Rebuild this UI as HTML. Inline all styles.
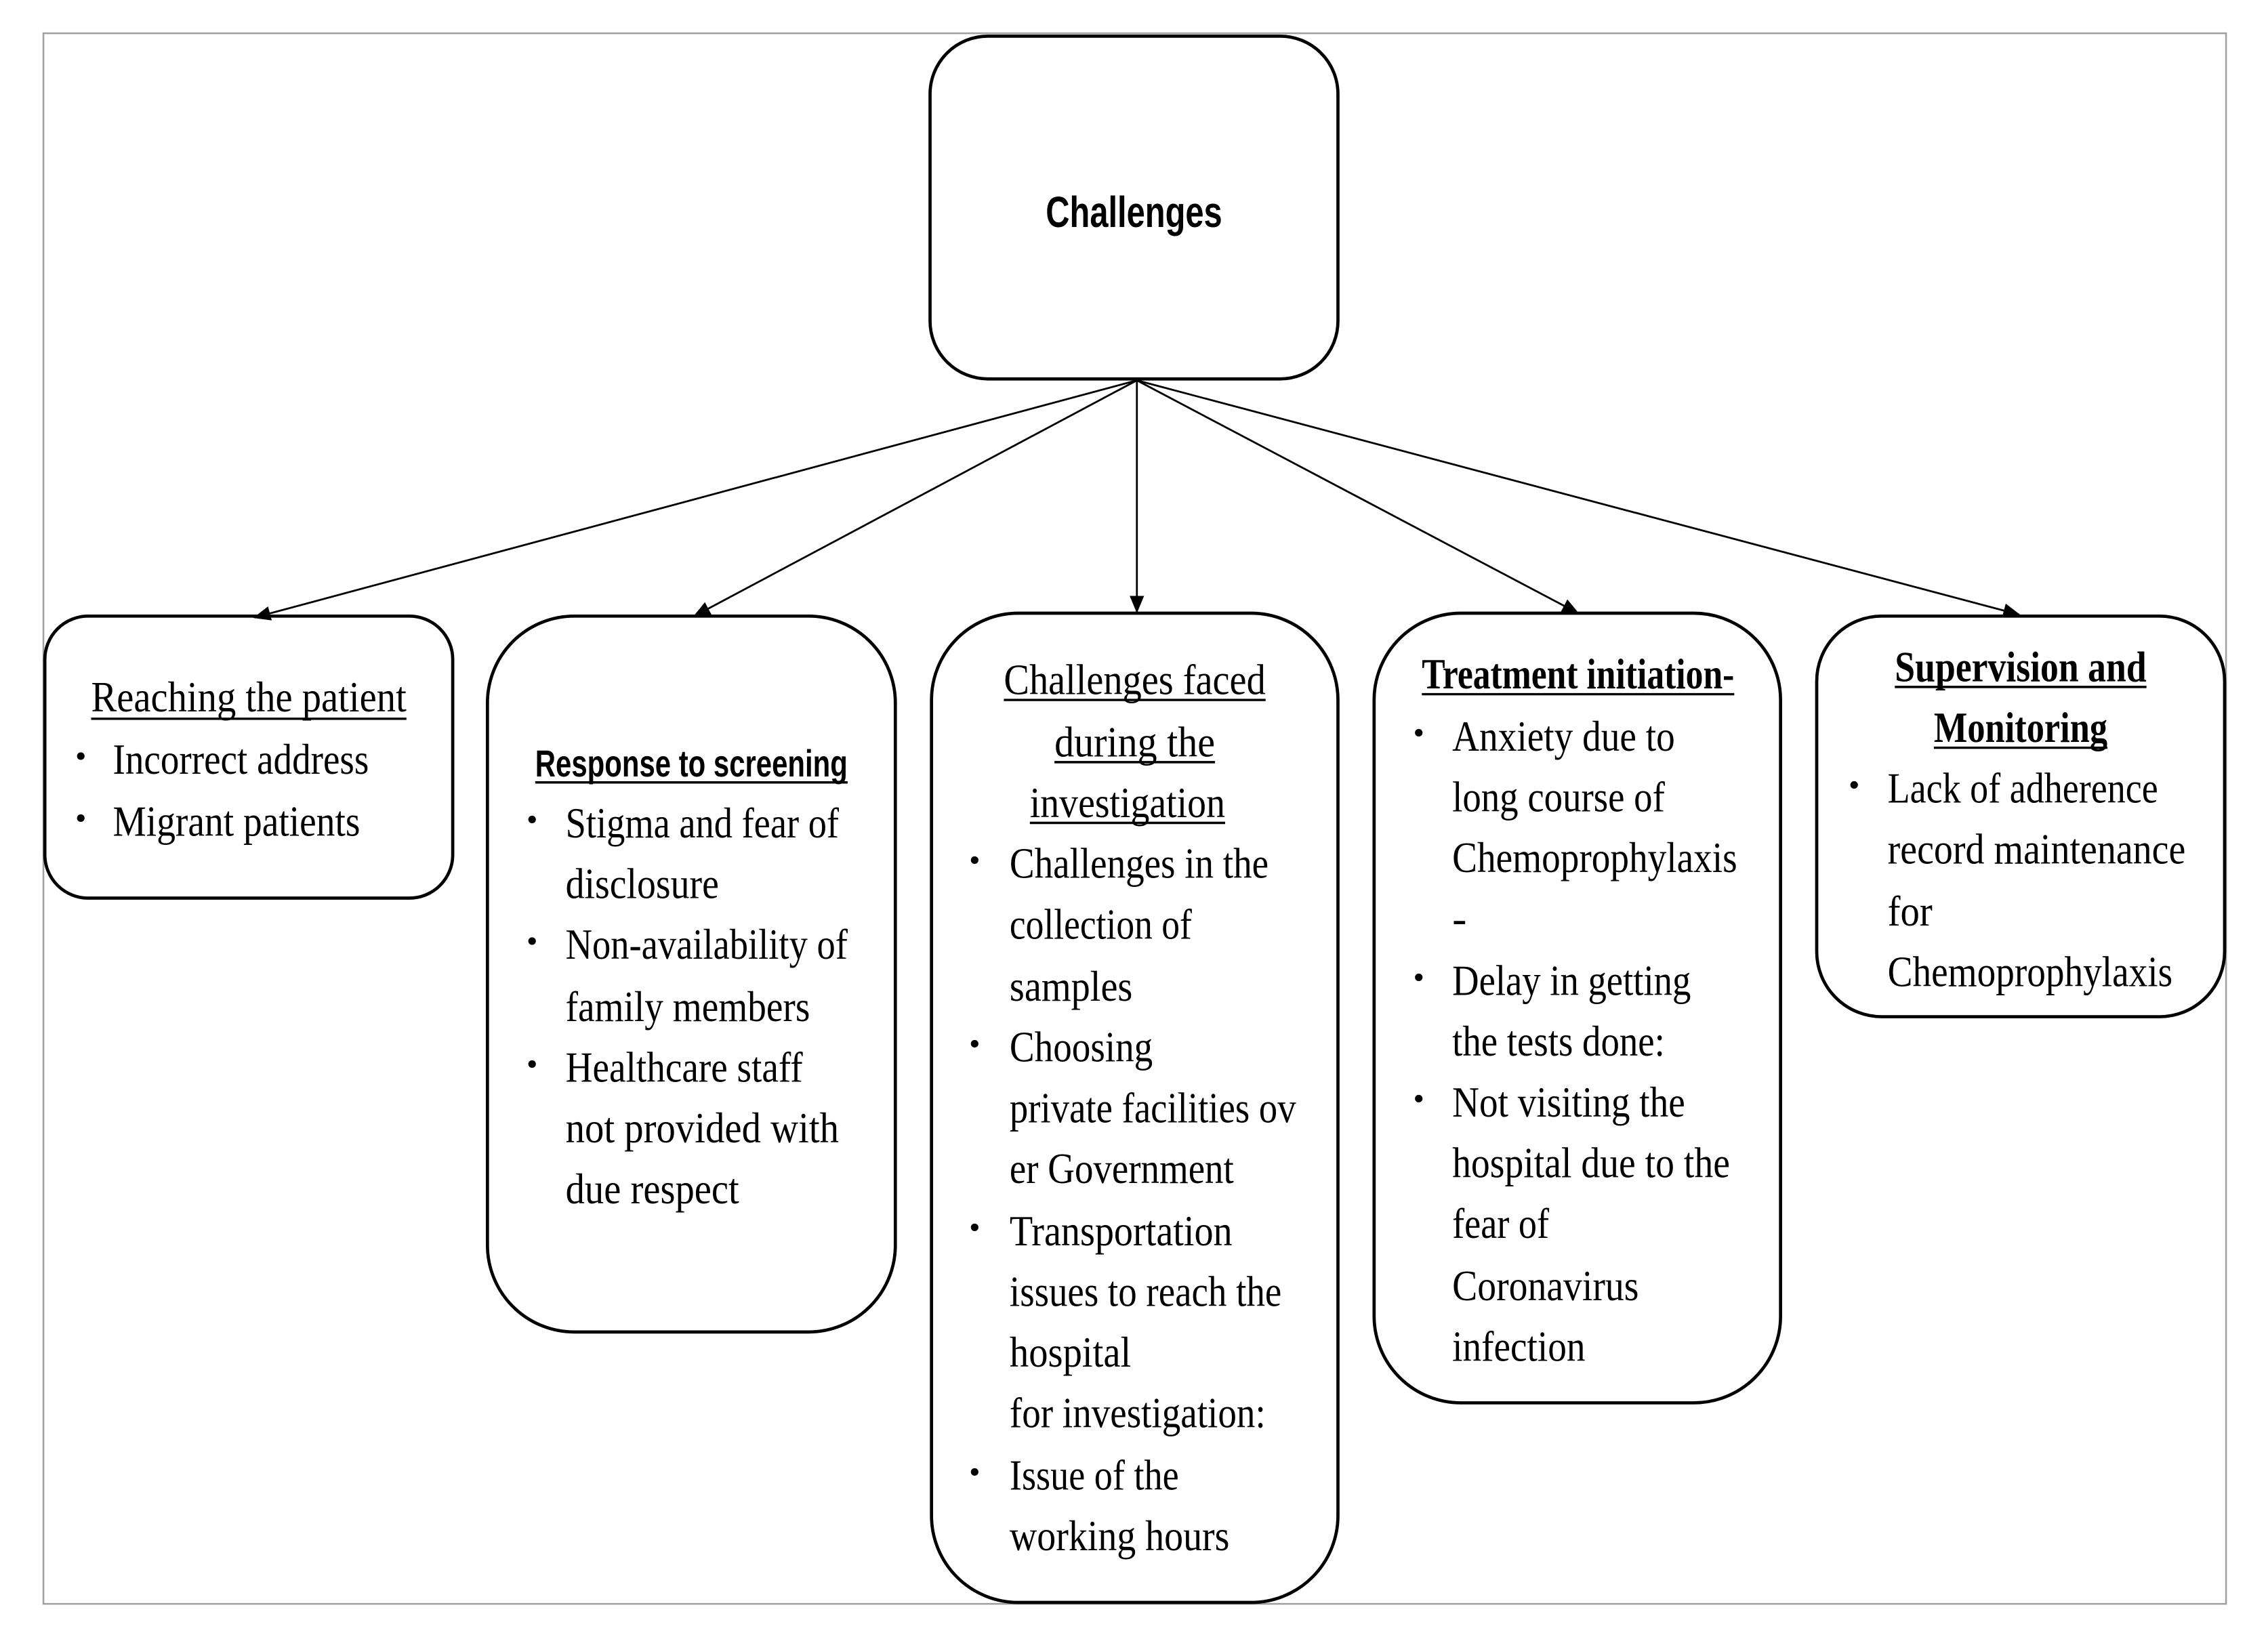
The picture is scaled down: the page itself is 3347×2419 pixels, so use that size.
<!DOCTYPE html>
<html><head><meta charset="utf-8"><style>html,body{margin:0;padding:0;background:#fff}svg{display:block}</style></head>
<body>
<svg width="3347" height="2419" viewBox="0 0 1568 1133.3" preserveAspectRatio="none" xmlns="http://www.w3.org/2000/svg">
<defs><marker id="ah" markerWidth="12" markerHeight="10" refX="11" refY="5" orient="auto" markerUnits="userSpaceOnUse"><path d="M0,0 L12,5 L0,10 z" fill="#000"/></marker></defs>
<rect x="0" y="0" width="1568" height="1134" fill="#fff"/>
<rect x="30" y="23" width="1509" height="1086" fill="none" stroke="#a0a0a0" stroke-width="1.2"/>
<g fill="none" stroke="#000" stroke-width="2.2">
<rect x="643" y="25" width="282" height="237" rx="40"/>
<rect x="31" y="426" width="282" height="195" rx="30"/>
<rect x="337" y="426" width="282" height="495" rx="60"/>
<rect x="644" y="424" width="281" height="684" rx="60"/>
<rect x="950" y="424" width="281" height="546" rx="60"/>
<rect x="1256" y="426" width="282" height="277" rx="45"/>
</g>
<g stroke="#000" stroke-width="1.3" marker-end="url(#ah)">
<line x1="786" y1="263" x2="176" y2="427"/>
<line x1="786" y1="263" x2="480" y2="426"/>
<line x1="786" y1="263" x2="786" y2="423"/>
<line x1="786" y1="263" x2="1091" y2="424"/>
<line x1="786" y1="263" x2="1396" y2="425"/>
</g>
<text x="723" y="157" font-family="Liberation Sans, sans-serif" font-weight="bold" font-size="30" textLength="122" lengthAdjust="spacingAndGlyphs">Challenges</text>
<g font-family="Liberation Serif, serif" font-size="30" fill="#000" lengthAdjust="spacingAndGlyphs">
<!-- B1 -->
<text x="63" y="492" textLength="218" lengthAdjust="spacingAndGlyphs">Reaching the patient</text>
<text x="78" y="535" textLength="177" lengthAdjust="spacingAndGlyphs">Incorrect address</text>
<text x="78" y="578" textLength="171" lengthAdjust="spacingAndGlyphs">Migrant patients</text>
<!-- B2 -->
<text x="370" y="537" font-family="Liberation Sans, sans-serif" font-weight="bold" font-size="26" textLength="216" lengthAdjust="spacingAndGlyphs">Response to screening</text>
<text x="391" y="579" textLength="189" lengthAdjust="spacingAndGlyphs">Stigma and fear of</text>
<text x="391" y="621" textLength="106" lengthAdjust="spacingAndGlyphs">disclosure</text>
<text x="391" y="663" textLength="195" lengthAdjust="spacingAndGlyphs">Non-availability of</text>
<text x="391" y="706" textLength="169" lengthAdjust="spacingAndGlyphs">family members</text>
<text x="391" y="748" textLength="164" lengthAdjust="spacingAndGlyphs">Healthcare staff</text>
<text x="391" y="790" textLength="189" lengthAdjust="spacingAndGlyphs">not provided  with</text>
<text x="391" y="832" textLength="120" lengthAdjust="spacingAndGlyphs">due  respect</text>
<!-- B3 -->
<text x="694" y="480" textLength="181" lengthAdjust="spacingAndGlyphs">Challenges  faced</text>
<text x="729" y="523" textLength="111" lengthAdjust="spacingAndGlyphs">during the</text>
<text x="712" y="565" textLength="135" lengthAdjust="spacingAndGlyphs">investigation</text>
<text x="698" y="607" textLength="179" lengthAdjust="spacingAndGlyphs">Challenges in the</text>
<text x="698" y="649" textLength="126" lengthAdjust="spacingAndGlyphs">collection of</text>
<text x="698" y="692" textLength="85" lengthAdjust="spacingAndGlyphs">samples</text>
<text x="698" y="734" textLength="99" lengthAdjust="spacingAndGlyphs">Choosing</text>
<text x="698" y="776" textLength="198" lengthAdjust="spacingAndGlyphs">private facilities ov</text>
<text x="698" y="818" textLength="155" lengthAdjust="spacingAndGlyphs">er Government</text>
<text x="698" y="861" textLength="154" lengthAdjust="spacingAndGlyphs">Transportation</text>
<text x="698" y="903" textLength="188" lengthAdjust="spacingAndGlyphs">issues to reach the</text>
<text x="698" y="945" textLength="84" lengthAdjust="spacingAndGlyphs">hospital</text>
<text x="698" y="987" textLength="177" lengthAdjust="spacingAndGlyphs">for investigation:</text>
<text x="698" y="1030" textLength="117" lengthAdjust="spacingAndGlyphs">Issue of the</text>
<text x="698" y="1072" textLength="152" lengthAdjust="spacingAndGlyphs">working hours</text>
<!-- B4 -->
<text x="983" y="476" font-weight="bold" textLength="216" lengthAdjust="spacingAndGlyphs">Treatment initiation-</text>
<text x="1004" y="519" textLength="154" lengthAdjust="spacingAndGlyphs">Anxiety due to</text>
<text x="1004" y="561" textLength="147" lengthAdjust="spacingAndGlyphs">long course of</text>
<text x="1004" y="603" textLength="197" lengthAdjust="spacingAndGlyphs">Chemoprophylaxis</text>
<text x="1004" y="645">-</text>
<text x="1004" y="688" textLength="165" lengthAdjust="spacingAndGlyphs">Delay in getting</text>
<text x="1004" y="730" textLength="147" lengthAdjust="spacingAndGlyphs">the tests done:</text>
<text x="1004" y="772" textLength="161" lengthAdjust="spacingAndGlyphs">Not visiting the</text>
<text x="1004" y="814" textLength="192" lengthAdjust="spacingAndGlyphs">hospital due to the</text>
<text x="1004" y="856" textLength="67" lengthAdjust="spacingAndGlyphs">fear of</text>
<text x="1004" y="899" textLength="129" lengthAdjust="spacingAndGlyphs">Coronavirus</text>
<text x="1004" y="941" textLength="92" lengthAdjust="spacingAndGlyphs">infection</text>
<!-- B5 -->
<text x="1310" y="471" font-weight="bold" textLength="174" lengthAdjust="spacingAndGlyphs">Supervision  and</text>
<text x="1337" y="513" font-weight="bold" textLength="120" lengthAdjust="spacingAndGlyphs">Monitoring</text>
<text x="1305" y="555" textLength="187" lengthAdjust="spacingAndGlyphs">Lack of adherence</text>
<text x="1305" y="597" textLength="206" lengthAdjust="spacingAndGlyphs">record maintenance</text>
<text x="1305" y="640" textLength="31" lengthAdjust="spacingAndGlyphs">for</text>
<text x="1305" y="682" textLength="197" lengthAdjust="spacingAndGlyphs">Chemoprophylaxis</text>
</g>
<g font-family="Liberation Serif, serif" font-size="22">
<text x="52" y="530">•</text><text x="52" y="573">•</text>
<text x="364" y="574">•</text><text x="364" y="658">•</text><text x="364" y="743">•</text>
<text x="670" y="602">•</text><text x="670" y="729">•</text><text x="670" y="856">•</text><text x="670" y="1025">•</text>
<text x="977" y="514">•</text><text x="977" y="683">•</text><text x="977" y="767">•</text>
<text x="1278" y="550">•</text>
</g>
<g stroke="#000" stroke-width="1.6">
<line x1="63" y1="497" x2="281" y2="497"/>
<line x1="370" y1="541" x2="586" y2="541"/>
<line x1="694" y1="484" x2="875" y2="484"/>
<line x1="729" y1="527" x2="840" y2="527"/>
<line x1="712" y1="569" x2="847" y2="569"/>
<line x1="983" y1="480" x2="1199" y2="480"/>
<line x1="1310" y1="475" x2="1484" y2="475"/>
<line x1="1337" y1="517" x2="1457" y2="517"/>
</g>
</svg>
</body></html>
